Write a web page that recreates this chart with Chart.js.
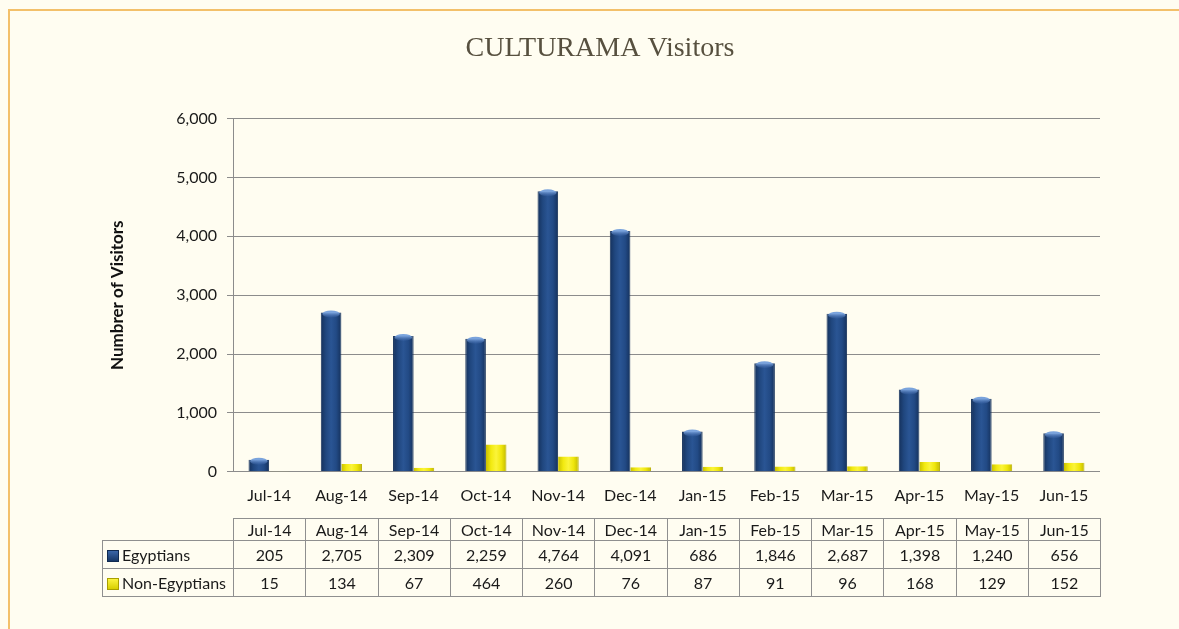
<!DOCTYPE html>
<html>
<head>
<meta charset="utf-8">
<script src="https://cdn.jsdelivr.net/npm/chart.js@4"></script>
<style>
  html, body { margin: 0; padding: 0; background: #fffdf1; }
  #wrap { position: relative; width: 1179px; height: 629px; overflow: hidden; }
  #frame { position: absolute; left: 8px; top: 9px; right: -10px; bottom: -10px;
           border-top: 2px solid #f3c06a; border-left: 2px solid #f3c06a; }
  canvas { position: absolute; left: 0; top: 0; }
  #tbl { position: absolute; left: 102px; top: 518px; border-collapse: collapse; table-layout: fixed;
         font-family: Lato, "Liberation Sans", sans-serif; font-size: 16px; color: #1a1a1a; }
  #tbl td { border: 1px solid #8f8f8f; text-align: center; padding: 0; white-space: nowrap; }
  #tbl tr.head td { height: 21px; }
  #tbl tr.row td { height: 27px; }
  #tbl td.blank { border: none; }
  #tbl td.lbl { text-align: left; padding-left: 4px; }
  .mk { display: inline-block; width: 12px; height: 12px; margin-right: 3px; vertical-align: -1px; }
</style>
</head>
<body>
<div id="wrap">
  <div id="frame"></div>
  <canvas id="chart" width="1179" height="629"></canvas>
  <table id="tbl"></table>
</div>
<script>
const months = ['Jul-14','Aug-14','Sep-14','Oct-14','Nov-14','Dec-14','Jan-15','Feb-15','Mar-15','Apr-15','May-15','Jun-15'];
const egyptians = [205, 2705, 2309, 2259, 4764, 4091, 686, 1846, 2687, 1398, 1240, 656];
const nonEgyptians = [15, 134, 67, 464, 260, 76, 87, 91, 96, 168, 129, 152];
const seriesNames = ['Egyptians', 'Non-Egyptians'];
const yMax = 6000, yStep = 1000;

const CAT_PCT = 0.57;
const fmt = v => Number(v).toLocaleString('en-US');

// cylinder-ish shading across each bar
function barFill(stops, base) {
  return ctx => {
    const chart = ctx.chart, x = chart.scales.x;
    if (ctx.type !== 'data' || !x || !x.width) return base;
    const c = x.getPixelForValue(ctx.dataIndex);
    const w = (x.width / months.length) * CAT_PCT / 2;
    const left = ctx.datasetIndex === 0 ? c - w : c;
    const g = chart.ctx.createLinearGradient(left, 0, left + w, 0);
    stops.forEach((s, i) => g.addColorStop(i / (stops.length - 1), s));
    return g;
  };
}
const blueStops = ['#15315c', '#20477f', '#2a5594', '#224a85', '#15315c'];
const yellowStops = ['#c9c000', '#f2ea10', '#fbf43a', '#efe60c', '#c2b900'];

const capPlugin = {
  id: 'caps',
  afterDatasetsDraw(chart) {
    const meta = chart.getDatasetMeta(0);
    const c = chart.ctx;
    c.save();
    meta.data.forEach(el => {
      const rx = el.width / 2 - 1.5;
      const g = c.createLinearGradient(0, el.y, 0, el.y + 6);
      g.addColorStop(0, '#7aa3dc');
      g.addColorStop(1, 'rgba(60,100,170,0)');
      c.fillStyle = g;
      c.beginPath();
      c.ellipse(el.x, el.y + 1.5, rx, 3.5, 0, 0, Math.PI * 2);
      c.fill();
    });
    c.restore();
  }
};

Chart.defaults.font.family = 'Lato, "Liberation Sans", sans-serif';
Chart.defaults.font.size = 16;
Chart.defaults.color = '#1a1a1a';

const chart = new Chart(document.getElementById('chart'), {
  type: 'bar',
  data: {
    labels: months,
    datasets: [
      { label: seriesNames[0], data: egyptians, backgroundColor: barFill(blueStops, '#20477f'),
        borderColor: '#14305a', borderWidth: { left: 1, right: 1, top: 0, bottom: 0 },
        categoryPercentage: CAT_PCT, barPercentage: 1 },
      { label: seriesNames[1], data: nonEgyptians, backgroundColor: barFill(yellowStops, '#f2ea10'),
        borderColor: '#b8ae00', borderWidth: { left: 0, right: 1, top: 0, bottom: 0 },
        categoryPercentage: CAT_PCT, barPercentage: 1 }
    ]
  },
  options: {
    responsive: false,
    animation: false,
    layout: { padding: { left: 100, right: 79, top: 0, bottom: 110 } },
    plugins: {
      legend: { display: false },
      tooltip: { enabled: false },
      title: {
        display: true,
        text: 'CULTURAMA Visitors',
        color: '#57503f',
        font: { family: '"Liberation Serif", "DejaVu Serif", serif', size: 28, weight: 'normal' },
        padding: { top: 32, bottom: 53 }
      }
    },
    scales: {
      x: {
        grid: { display: false, drawTicks: false },
        border: { display: false },
        ticks: { padding: 14 }
      },
      y: {
        min: 0, max: yMax,
        afterFit(s) { s.width = 133; },
        ticks: { stepSize: yStep, padding: 10, callback: v => fmt(v) },
        grid: { color: '#8c8c8c', tickLength: 6 },
        border: { color: '#8c8c8c' },
        title: { display: true, text: 'Numbrer of Visitors', color: '#111',
                 font: { weight: 'bold', size: 17 }, padding: { top: 7, bottom: 0 } }
      }
    }
  },
  plugins: [capPlugin]
});

// data table under the chart, columns follow the x scale
(function buildTable() {
  const a = chart.chartArea;
  const tbl = document.getElementById('tbl');
  const colW = a.width / months.length;
  const firstW = a.left - 102;
  let html = '<colgroup><col style="width:' + firstW + 'px">';
  months.forEach(() => { html += '<col style="width:' + colW + 'px">'; });
  html += '</colgroup>';
  html += '<tr class="head"><td class="blank"></td>' + months.map(m => '<td>' + m + '</td>').join('') + '</tr>';
  const marks = [
    'background:linear-gradient(180deg,#3a66a8,#173766);border:1px solid #102a50;box-sizing:border-box',
    'background:linear-gradient(180deg,#fbf440,#d8cf00);border:1px solid #a99f00;box-sizing:border-box'
  ];
  [egyptians, nonEgyptians].forEach((vals, i) => {
    html += '<tr class="row"><td class="lbl"><span class="mk" style="' + marks[i] + '"></span>' + seriesNames[i] + '</td>' +
      vals.map(v => '<td>' + fmt(v) + '</td>').join('') + '</tr>';
  });
  tbl.innerHTML = html;
  tbl.style.width = (firstW + a.width) + 'px';
})();
</script>
</body>
</html>
